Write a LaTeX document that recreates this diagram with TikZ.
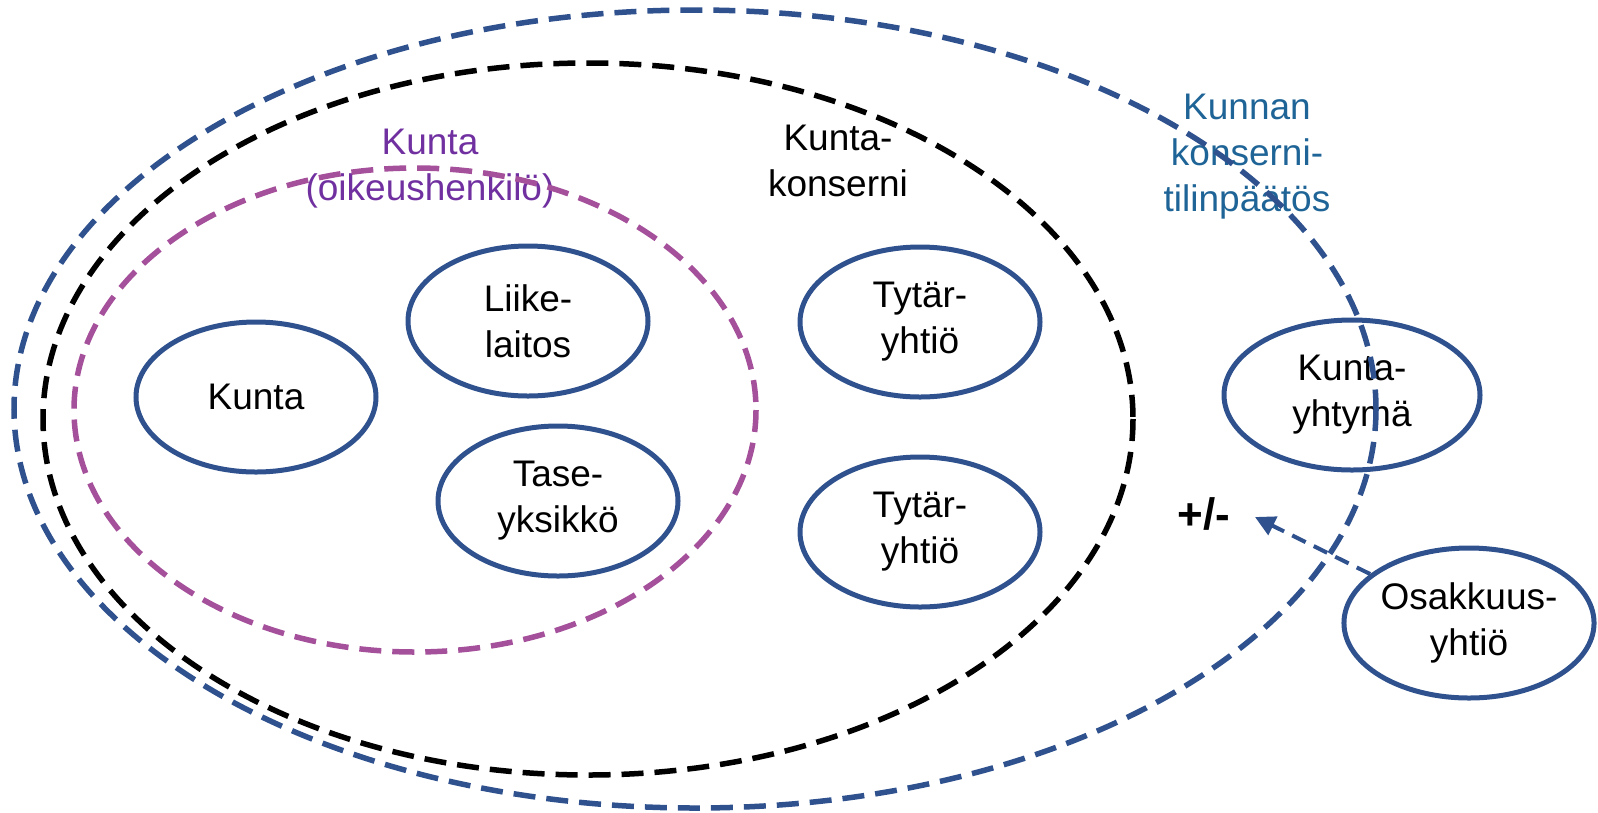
\documentclass[tikz,border=0pt]{standalone}
\usepackage{fontspec}
\setmainfont{Liberation Sans}
\usetikzlibrary{shapes.geometric,arrows.meta}
\definecolor{ellblue}{RGB}{47,82,143}
\definecolor{dashpurple}{RGB}{165,80,155}
\definecolor{txtpurple}{RGB}{112,48,160}
\definecolor{txtblue}{RGB}{31,100,150}
\begin{document}
\begin{tikzpicture}[x=1pt,y=-1pt,
  unit/.style={ellipse, draw=ellblue, line width=5pt, minimum width=240pt, minimum height=150pt, inner sep=0pt, align=center, font=\fontsize{37}{46}\selectfont},
  bigdash/.style={line width=5.5pt, dash pattern=on 22pt off 11pt},
  lbl/.style={align=center, font=\fontsize{37}{46}\selectfont},
  arr/.style={draw=ellblue, line width=4pt, dash pattern=on 15pt off 9pt, -{Triangle[length=20pt,width=20pt]}}]
\useasboundingbox (0,0) rectangle (1598,812);
% solid ellipses
\node[unit] (kunta) at (256,397) {Kunta};
\node[unit] (liike) at (528,321) {Liike-\\laitos};
\node[unit] (tase) at (558,501) {Tase-\\yksikkö};
\node[unit] (tyt1) at (920,322) {Tytär-\\yhtiö};
\node[unit] (tyt2) at (920,532) {Tytär-\\yhtiö};
\node[unit, minimum width=256pt] (ky) at (1352,395) {Kunta-\\yhtymä};
\node[unit, minimum width=250pt] (osak) at (1469,623) {Osakkuus-\\yhtiö};
% labels
\node[lbl, text=txtpurple] (lkunta) at (430,169) {Kunta\\(oikeushenkilö)};
\node[lbl] (lkonserni) at (838,161) {Kunta-\\konserni};
\node[lbl, text=txtblue] (ltp) at (1247,157) {Kunnan\\konserni-\\tilinpäätös};
\node[lbl, font=\fontsize{44}{50}\selectfont\bfseries] (pm) at (1204,514) {+/-};
% arrow
\coordinate (tip) at (1255,517);
\draw[arr] (osak) -- (tip);
% dashed groups
\draw[bigdash, draw=dashpurple] (415,410) ellipse [x radius=341, y radius=242];
\draw[bigdash, draw=black] (588,419) ellipse [x radius=545, y radius=356];
\draw[bigdash, draw=ellblue] (695,409) ellipse [x radius=681, y radius=399];
\end{tikzpicture}
\end{document}
